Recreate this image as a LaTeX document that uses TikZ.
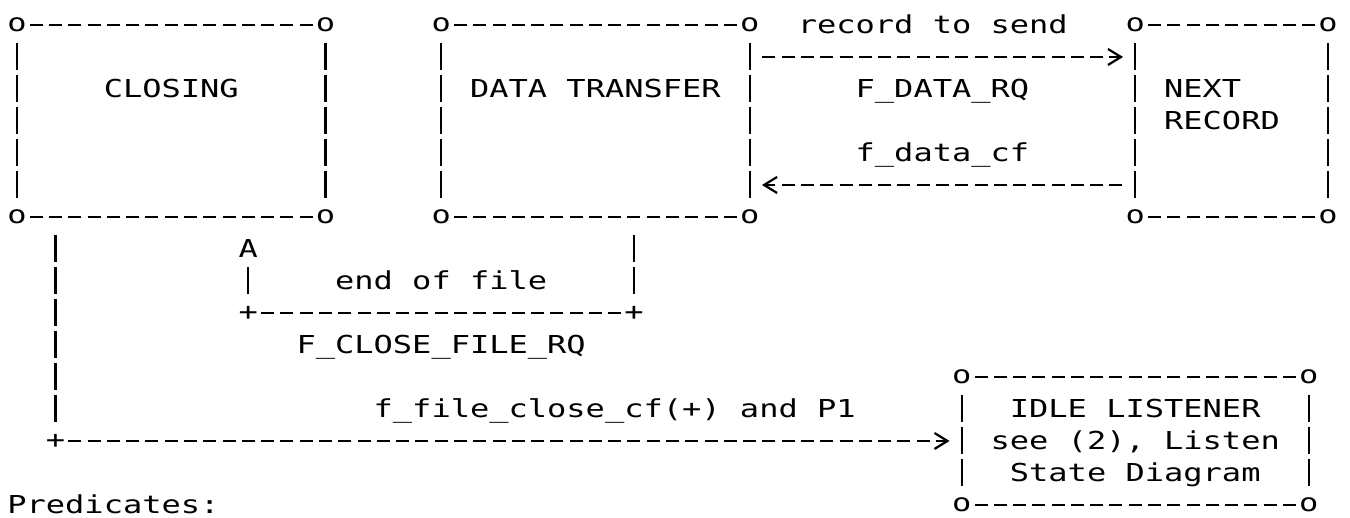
\documentclass[tikz,border=0pt]{standalone}
\usepackage{fontspec}
\newfontfamily\asciimono[FakeStretch=1.2966]{DejaVu Sans Mono}
\usetikzlibrary{arrows.meta,calc}

\begin{document}
\begin{tikzpicture}[x=9.64pt,y=-16pt,>={Straight Barb[length=6.5pt,width=8pt]},
		txt/.style={font=\asciimono\fontsize{12.35pt}{14pt}\selectfont,inner sep=0pt},
		lbl/.style={txt,anchor=base,yshift=-4.5pt},
		statebox/.style 2 args={minimum width=#1*9.64pt,minimum height=#2*16pt,inner sep=0pt,outer sep=0pt,anchor=north west},
		hdash/.style={line width=1.1pt,dash pattern=on 6.5pt off 3.14pt,dash phase=8.07pt},
		vbar/.style={line width=1.1pt,dash pattern=on 13.5pt off 2.5pt,dash phase=14.75pt}]
	\useasboundingbox (-0.882,-0.781) rectangle (69.14,15.406);
	\node[statebox={16}{6}] (closing) at (0,0) {};
	\node[statebox={16}{6}] (datatx) at (22,0) {};
	\node[statebox={10}{6}] (nextrec) at (58,0) {};
	\node[statebox={18}{4}] (idle) at (49,11) {};
	\foreach \b in {closing,datatx,nextrec,idle}{%
		\draw[hdash] ($(\b.north west)+(0.5,0)$) -- ($(\b.north east)+(-0.5,0)$);
		\draw[hdash] ($(\b.south west)+(0.5,0)$) -- ($(\b.south east)+(-0.5,0)$);
		\draw[vbar] ($(\b.north west)+(0,0.5)$) -- ($(\b.south west)+(0,-0.5)$);
		\draw[vbar] ($(\b.north east)+(0,0.5)$) -- ($(\b.south east)+(0,-0.5)$);
		\foreach \c/\k in {north west/nw,north east/ne,south west/sw,south east/se}
			\node[txt] (\b-\k) at (\b.\c) {o};
	}%
	\foreach \n/\x/\y/\t in {%
		sendlbl/47.5/0/record to send, closingtxt/8/2/CLOSING,
		datatxtxt/30/2/DATA TRANSFER, datarq/48/2/F\_DATA\_RQ,
		nexttxt/61.5/2/NEXT, recordtxt/62.5/3/RECORD, datacf/48/4/f\_data\_cf,
		eoflbl/22/8/end of file, closerq/22/10/F\_CLOSE\_FILE\_RQ,
		closecf/31/12/f\_file\_close\_cf(+) and P1,
		idletxt/58/12/IDLE LISTENER, seetxt/58/13/{see (2), Listen},
		statetxt/58/14/State Diagram, predlbl/5/15/Predicates:
	}{%
		\node[lbl] (\n) at (\x,\y) {\t};
	}%
	\draw[hdash,->] ($(datatx.north east)+(0.5,1)$) -- ($(nextrec.north west)+(-0.63,1)$);
	\draw[hdash,->] ($(nextrec.south west)+(-0.5,-1)$) -- ($(datatx.south east)+(0.64,-1)$);
	\node[txt] (eofR) at (32,9) {+};
	\node[txt] (eofL) at (12,9) {+};
	\node[txt] (eofA) at (12,7) {A};
	\draw[vbar] ($(eofR |- datatx.south)+(0,0.5)$) -- ($(eofR)+(0,-0.5)$);
	\draw[hdash] ($(eofR)+(-0.5,0)$) -- ($(eofL)+(0.5,0)$);
	\draw[vbar] ($(eofL)+(0,-0.5)$) -- ($(eofA)+(0,0.5)$);
	\node[txt] (closeP) at (2,13) {+};
	\draw[vbar] ($(closeP |- closing.south)+(0,0.5)$) -- ($(closeP)+(0,-0.5)$);
	\draw[hdash,->] ($(closeP)+(0.5,0)$) -- ($(closeP -| idle.west)+(-0.63,0)$);
\end{tikzpicture}
\end{document}
